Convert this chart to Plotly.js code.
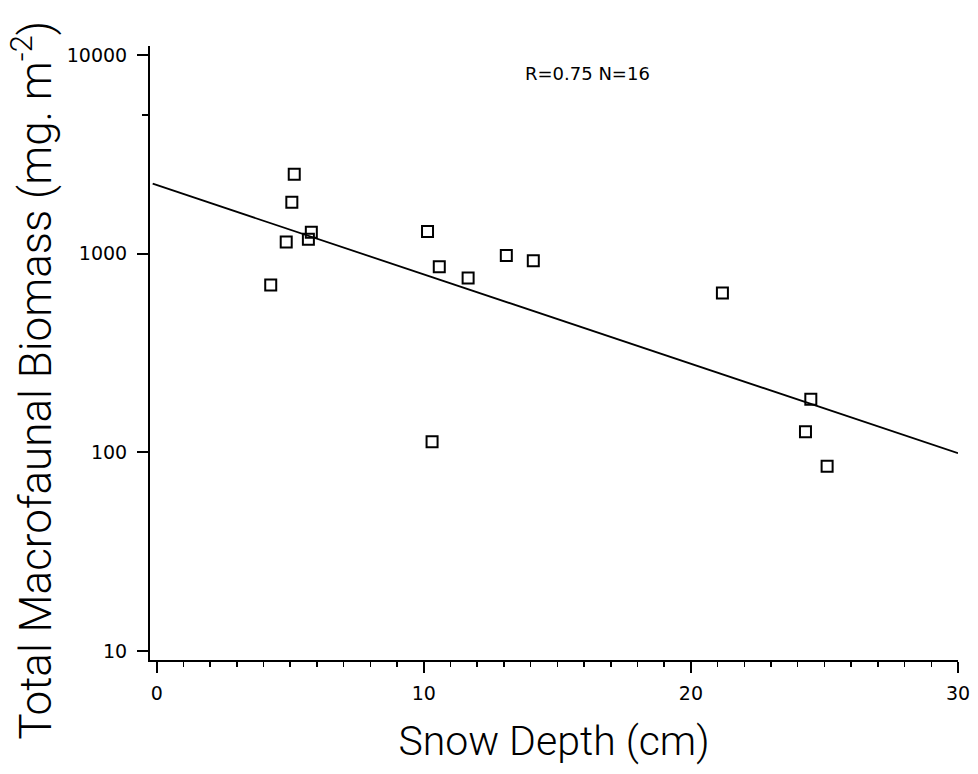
<!DOCTYPE html>
<html>
<head>
<meta charset="utf-8">
<script src="https://cdn.plot.ly/plotly-3.0.1.min.js"></script>
<style>
  html, body { margin: 0; padding: 0; background: #ffffff; }
  #chart { width: 978px; height: 774px; }
</style>
</head>
<body>
<div id="chart"></div>
<script>
// Snow depth (cm) at each sampling station
const snowDepth = [4.27, 4.85, 5.06, 5.15, 5.68, 5.79, 10.14, 10.58, 11.66, 13.09, 14.10, 10.31, 21.18, 24.49, 24.29, 25.10];
// Total macrofaunal biomass (mg m^-2) at the same stations
const biomass = [696, 1143, 1815, 2513, 1181, 1280, 1291, 859, 753, 978, 921, 113, 633, 185, 127, 85];

// Fitted log-linear regression line, end points
const fitDepth = [-0.15, 30];
const fitBiomass = [2250, 99];

// Axis ticks
const xTickVals = [0, 10, 20, 30];
const xTickText = ['0', '10', '20', '30'];
const yTickVals = [10, 100, 1000, 10000];
const yTickText = ['10', '100', '1000', '10000'];

const statsLabel = 'R=0.75 N=16';
const xTitle = 'Snow Depth (cm)';
const yTitle = 'Total Macrofaunal Biomass (mg. m<sup>-2</sup>)';

const tickFont = { family: 'DejaVu Sans, sans-serif', size: 19, color: '#000' };
const titleFont = { family: 'Roboto, sans-serif', size: 41, weight: 300, color: '#000' };

const traces = [
  {
    x: fitDepth,
    y: fitBiomass,
    mode: 'lines',
    line: { color: '#000', width: 1.8 },
    hoverinfo: 'skip',
    showlegend: false
  },
  {
    x: snowDepth,
    y: biomass,
    mode: 'markers',
    marker: {
      symbol: 'square-open',
      size: 11,
      color: '#000',
      line: { color: '#000', width: 2 }
    },
    showlegend: false
  }
];

const layout = {
  width: 978,
  height: 774,
  paper_bgcolor: '#ffffff',
  plot_bgcolor: '#ffffff',
  margin: { l: 150, r: 20, t: 46, b: 114 },
  showlegend: false,
  xaxis: {
    range: [-0.25, 30],
    showgrid: false,
    zeroline: false,
    showline: true,
    linecolor: '#000',
    linewidth: 2,
    ticks: 'outside',
    ticklen: 11,
    tickwidth: 2,
    tickcolor: '#000',
    tickmode: 'array',
    tickvals: xTickVals,
    ticktext: xTickText,
    tickfont: tickFont,
    ticklabelstandoff: 4,
    minor: {
      ticks: 'outside',
      dtick: 1,
      tick0: 0,
      ticklen: 5,
      tickwidth: 1.5,
      tickcolor: '#000',
      showgrid: false
    },
    title: {
      text: xTitle,
      font: titleFont,
      standoff: 24
    }
  },
  yaxis: {
    type: 'log',
    range: [Math.log10(9.0), Math.log10(11100)],
    showgrid: false,
    zeroline: false,
    showline: true,
    linecolor: '#000',
    linewidth: 2,
    ticks: 'outside',
    ticklen: 11,
    tickwidth: 2,
    tickcolor: '#000',
    tickmode: 'array',
    tickvals: yTickVals,
    ticktext: yTickText,
    tickfont: tickFont,
    ticklabelstandoff: 6,
    minor: {
      ticks: 'outside',
      tickmode: 'array',
      tickvals: [5000],
      ticklen: 6,
      tickwidth: 1.5,
      tickcolor: '#000',
      showgrid: false
    }
  },
  annotations: [
    {
      // vertical axis title, set slightly below the plot's middle
      text: yTitle,
      textangle: -90,
      xref: 'paper',
      yref: 'paper',
      x: -0.146,
      y: 0.455,
      xanchor: 'center',
      yanchor: 'middle',
      showarrow: false,
      font: { family: 'Roboto, sans-serif', size: 44, weight: 300, color: '#000' }
    },
    {
      text: statsLabel,
      xref: 'x',
      yref: 'paper',
      x: 13.72,
      y: 0.956,
      xanchor: 'left',
      yanchor: 'middle',
      showarrow: false,
      font: { family: 'DejaVu Sans, sans-serif', size: 18, color: '#000' }
    }
  ]
};

Plotly.newPlot('chart', traces, layout, { staticPlot: true, displayModeBar: false });
</script>
</body>
</html>
